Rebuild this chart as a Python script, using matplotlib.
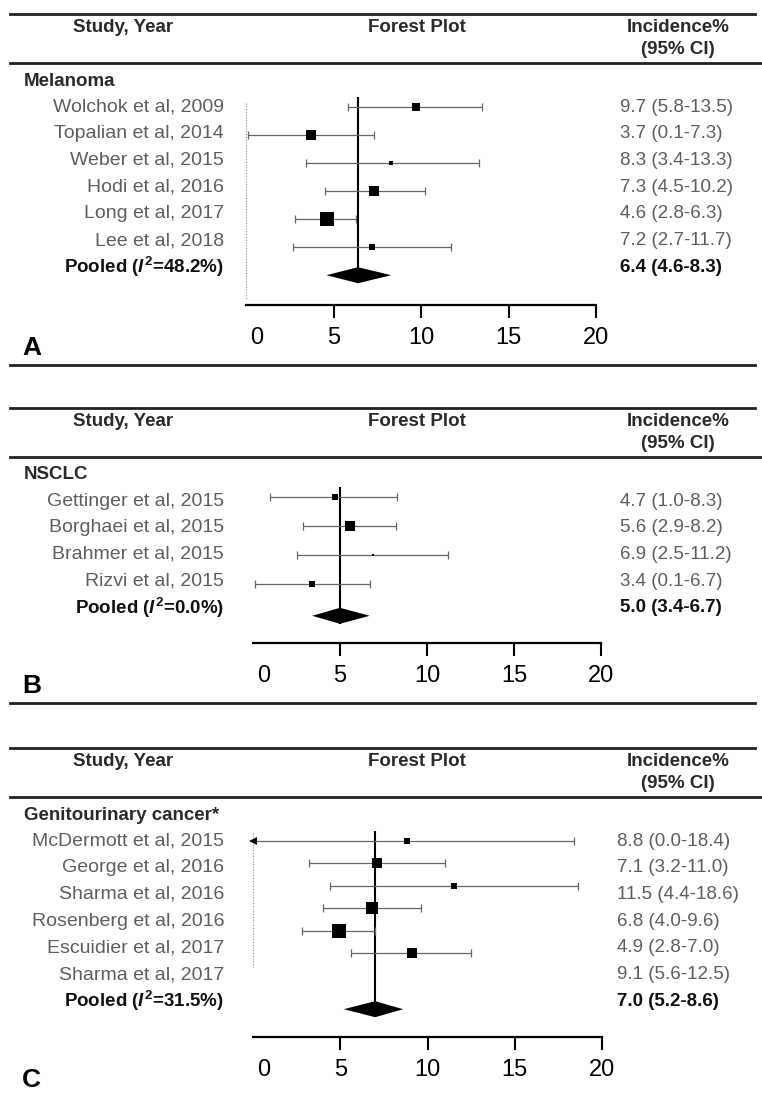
import matplotlib; matplotlib.use("Agg")
import matplotlib.pyplot as plt
import numpy as np
from matplotlib.lines import Line2D
from matplotlib.transforms import ScaledTranslation

plt.rcParams.update({"font.family": "Liberation Sans", "mathtext.fontset": "custom",
                     "mathtext.rm": "Liberation Sans:bold", "mathtext.bf": "Liberation Sans:bold",
                     "mathtext.it": "Liberation Sans:italic:bold"})
W, H = 762, 1094
GREY = "#5e5e5e"; DARK = "#2a2a2a"; WHISK = "#666666"

# ---- data ----
names_A = ["Wolchok et al, 2009", "Topalian et al, 2014", "Weber et al, 2015",
           "Hodi et al, 2016", "Long et al, 2017", "Lee et al, 2018"]
est_A = [9.7, 3.7, 8.3, 7.3, 4.6, 7.2]
lo_A = [5.8, 0.1, 3.4, 4.5, 2.8, 2.7]
hi_A = [13.5, 7.3, 13.3, 10.2, 6.3, 11.7]
wt_A = [8, 12, 2.5, 14, 31, 5]          # study weight
pool_A = [6.4, 4.6, 8.3]; i2_A = 48.2

names_B = ["Gettinger et al, 2015", "Borghaei et al, 2015", "Brahmer et al, 2015", "Rizvi et al, 2015"]
est_B = [4.7, 5.6, 6.9, 3.4]
lo_B = [1.0, 2.9, 2.5, 0.1]
hi_B = [8.3, 8.2, 11.2, 6.7]
wt_B = [4.5, 16, 0.8, 5]
pool_B = [5.0, 3.4, 6.7]; i2_B = 0.0

names_C = ["McDermott et al, 2015", "George et al, 2016", "Sharma et al, 2016",
           "Rosenberg et al, 2016", "Escuidier et al, 2017", "Sharma et al, 2017"]
est_C = [8.8, 7.1, 11.5, 6.8, 4.9, 9.1]
lo_C = [0.0, 3.2, 4.4, 4.0, 2.8, 5.6]
hi_C = [18.4, 11.0, 18.6, 9.6, 7.0, 12.5]
wt_C = [4, 13, 4, 19, 31, 16]
pool_C = [7.0, 5.2, 8.6]; i2_C = 31.5

ticks = [0, 5, 10, 15, 20]

fig = plt.figure(figsize=(W / 100, H / 100), dpi=100)
fx = lambda x: x / W
fy = lambda y: 1 - y / H

def hline(y, x0=10, x1=755, lw=2.0):
    fig.add_artist(Line2D([fx(x0), fx(x1)], [fy(y), fy(y)], lw=lw, color="#222222"))

def panel(T, cat, names, est, lo, hi, wt, pool, i2, letter, x0, x1, m0, mstep, axis_px,
          dotted=None, bottom=True, vx=620):
    # header
    hline(T); hline(T + 49, x1=762)
    fig.text(fx(123), fy(T + 14), "Study, Year", ha="center", va="center", fontsize=13.5,
             fontweight="bold", color=DARK)
    fig.text(fx(417), fy(T + 14), "Forest Plot", ha="center", va="center", fontsize=13.5,
             fontweight="bold", color=DARK)
    fig.text(fx(678), fy(T + 14), "Incidence%", ha="center", va="center", fontsize=13.5,
             fontweight="bold", color=DARK)
    fig.text(fx(678), fy(T + 36), "(95% CI)", ha="center", va="center", fontsize=13.5,
             fontweight="bold", color=DARK)
    fig.text(fx(24), fy(T + 67), cat, ha="left", va="center", fontsize=13.5,
             fontweight="bold", color=DARK)
    n = len(names)
    for i in range(n):
        ty = T + 93 + i * 26.7
        fig.text(fx(224), fy(ty), names[i], ha="right", va="center", fontsize=14, color=GREY)
        fig.text(fx(vx), fy(ty), f"{est[i]:.1f} ({lo[i]:.1f}-{hi[i]:.1f})", ha="left",
                 va="center", fontsize=13.5, color=GREY)
    py = T + 93 + n * 26.7
    fig.text(fx(224), fy(py), rf"Pooled ($\mathit{{I}}^{{2}}$={i2:.1f}%)", ha="right",
             va="center", fontsize=13.5, fontweight="bold", color="#111111")
    fig.text(fx(vx), fy(py), f"{pool[0]:.1f} ({pool[1]:.1f}-{pool[2]:.1f})", ha="left",
             va="center", fontsize=13.5, fontweight="bold", color="#111111")

    # forest axes: y in pixel rows from top
    top_px = T + 55
    ax = fig.add_axes([fx(x0), fy(axis_px), fx(x1) - fx(x0), (axis_px - top_px) / H])
    ax.set_xlim(0, 20); ax.set_ylim(axis_px, top_px)
    ax.patch.set_visible(False)
    for s in ["top", "left", "right"]:
        ax.spines[s].set_visible(False)
    ax.spines["bottom"].set_linewidth(1.6)
    ax.set_yticks([])
    ax.set_xticks(ticks, [str(t) for t in ticks])
    ax.tick_params(axis="x", length=9.5, width=1.5, labelsize=17, pad=6)
    t0 = ax.xaxis.get_major_ticks()[0]
    t0.tick1line.set_visible(False)
    t0.label1.set_transform(t0.label1.get_transform() + ScaledTranslation(8 / 72, 0, fig.dpi_scale_trans))

    my = m0 + np.arange(n) * mstep
    dy = py + 8
    if dotted is not None:
        ax.vlines(0, dotted[0], dotted[1], colors="#8a8a8a", linestyles=(0, (1, 1.5)), lw=0.8)
    ax.vlines(pool[0], my[0] - 10, dy + 8, colors="black", lw=1.5)
    for i in range(n):
        ax.hlines(my[i], max(lo[i], 0), hi[i], colors=WHISK, lw=0.9)
        ax.plot([hi[i]], [my[i]], marker="|", ms=6, mew=0.9, color=WHISK)
        if lo[i] > 0:
            ax.plot([lo[i]], [my[i]], marker="|", ms=6, mew=0.9, color=WHISK)
        else:
            ax.plot([0], [my[i]], marker="<", ms=6, color="black", mew=0, clip_on=False)
        ax.plot([est[i]], [my[i]], marker="s", ms=1.9 * np.sqrt(wt[i]), color="black", mew=0)
    ax.fill([pool[1], pool[0], pool[2], pool[0]], [dy, dy - 8, dy, dy + 8], color="black", lw=0)

    fig.text(fx(22), fy(axis_px + 43), letter, ha="left", va="center", fontsize=19,
             fontweight="bold", color="black")
    if bottom:
        hline(axis_px + 60)

panel(14, "Melanoma", names_A, est_A, lo_A, hi_A, wt_A, pool_A, i2_A, "A",
      246, 596, 107, 28, 305, dotted=(103, 300))
panel(408, "NSCLC", names_B, est_B, lo_B, hi_B, wt_B, pool_B, i2_B, "B",
      253, 601, 497, 29, 643)
panel(748, "Genitourinary cancer*", names_C, est_C, lo_C, hi_C, wt_C, pool_C, i2_C, "C",
      253, 602, 841, 22.4, 1037, dotted=(833, 967), bottom=False, vx=617)

fig.savefig("out.png", dpi=100, facecolor="white")
